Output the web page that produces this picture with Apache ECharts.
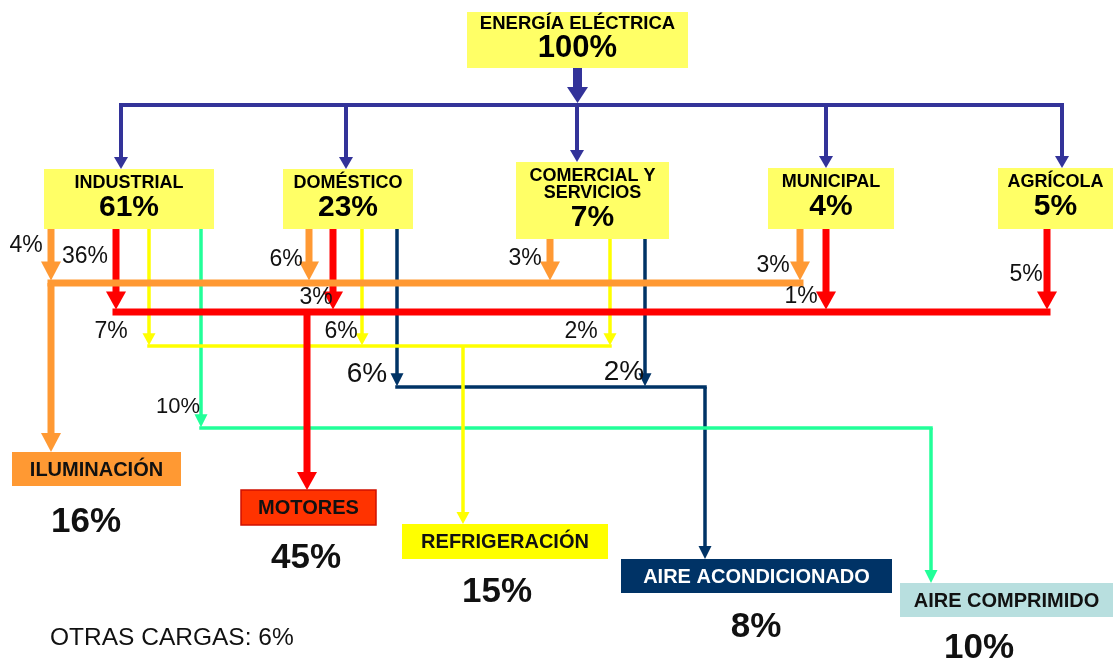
<!DOCTYPE html>
<html>
<head>
<meta charset="utf-8">
<title>Energía eléctrica por sector y uso final</title>
<script src="https://cdn.jsdelivr.net/npm/echarts@6/dist/echarts.min.js"></script>
<style>
  html, body { margin: 0; padding: 0; background: #fff; }
  #chart { width: 1114px; height: 659px; }
</style>
</head>
<body>
<div id="chart"></div>
<script>
// ---- datos ----
const totalLabel = "ENERGÍA ELÉCTRICA";
const totalShare = 100;

const sectorNames = ["INDUSTRIAL", "DOMÉSTICO", "COMERCIAL Y\nSERVICIOS", "MUNICIPAL", "AGRÍCOLA"];
const sectorShares = [61, 23, 7, 4, 5];

const useNames = ["ILUMINACIÓN", "MOTORES", "REFRIGERACIÓN", "AIRE ACONDICIONADO", "AIRE COMPRIMIDO"];
const useShares = [16, 45, 15, 8, 10];

// % que va de cada sector (columnas) a cada uso final; null = sin flujo
const flowIluminacion = [4, 6, 3, 3, null];
const flowMotores = [36, 3, null, 1, 5];
const flowRefrigeracion = [7, 6, 2, null, null];
const flowAireAcond = [null, 6, 2, null, null];
const flowAireComp = [10, null, null, null, null];
const flowShares = [flowIluminacion, flowMotores, flowRefrigeracion, flowAireAcond, flowAireComp];

const otherLabel = "OTRAS CARGAS";
const otherShare = 6;

// ---- layout (unidades del eje = px) ----
const W = 1114, H = 659;
const FONT = '"Liberation Sans", Arial, Helvetica, sans-serif';

const topBox = [467, 12, 688, 68];
const busY = 105;
const sectorBoxes = [
  [44, 169, 214, 229],
  [283, 169, 413, 229],
  [516, 162, 669, 239],
  [768, 168, 894, 229],
  [998, 168, 1113, 229]
];
const sectorDropX = [121, 346, 577, 826, 1062];

// x de cada bajada sector -> uso (filas = uso)
const tapX = [
  [51, 309, 550, 800, null],
  [116, 333, null, 826, 1047],
  [149, 362, 610, null, null],
  [null, 397, 645, null, null],
  [201, null, null, null, null]
];
const useBusY = [283, 312, 346, 387, 428];
const useDropX = [51, 307, 463, 705, 931];
const useBoxes = [
  [12, 452, 181, 486],
  [241, 490, 376, 525],
  [402, 524, 608, 559],
  [621, 559, 892, 593],
  [900, 583, 1113, 617]
];
const useShareX = [86, 306, 497, 756, 979];
const useShareY = [522, 558, 592, 627, 648];

const labelPos = [
  [[26, 246], [286, 260], [525, 259], [773, 266], null],
  [[85, 257], [316, 298], null, [801, 297], [1026, 275]],
  [[111, 332], [341, 332], [581, 332], null, null],
  [null, [367, 374], [624, 372], null, null],
  [[178, 407], null, null, null, null]
];
const labelSize = [23, 23, 23, 28, 22];

const blue = "#333399";
const sectorFill = "#ffff66";
const useColors = ["#ff9933", "#ff0000", "#ffff00", "#003366", "#22ff99"];
const useBoxFill = ["#ff9933", "#ff3300", "#ffff00", "#003366", "#b8dfdf"];
const useBoxStroke = [null, "#d01000", null, null, null];
const useTextColor = ["#111", "#111", "#111", "#fff", "#111"];
const useLineW = [7, 7, 3.5, 3.5, 3.5];
const useHead = [[20, 19], [20, 18], [13, 12], [13, 13], [13, 13]];
const drawOrder = [3, 4, 2, 1, 0];

// ---- cajas ----
const boxItems = [];
boxItems.push({ rect: topBox, fill: sectorFill });
sectorBoxes.forEach(r => boxItems.push({ rect: r, fill: sectorFill }));
useBoxes.forEach((r, i) => boxItems.push({ rect: r, fill: useBoxFill[i], stroke: useBoxStroke[i] }));

// ---- conectores ----
const connItems = [];
function addConn(from, to, color, width, head) {
  connItems.push({ from, to, color, width, head });
}
// flecha principal y bus azul
addConn([577.5, topBox[3]], [577.5, busY - 2], blue, 9, [21, 16]);
addConn([sectorDropX[0] - 2, busY], [sectorDropX[4] + 2, busY], blue, 4, null);
sectorDropX.forEach((x, j) => addConn([x, busY], [x, sectorBoxes[j][1]], blue, 4, [14, 12]));

drawOrder.forEach(u => {
  const color = useColors[u], w = useLineW[u], head = useHead[u];
  const xs = [useDropX[u]];
  tapX[u].forEach((x, j) => {
    if (x == null) return;
    xs.push(x);
    addConn([x, sectorBoxes[j][3]], [x, useBusY[u] - w / 2 + 1], color, w, head);
  });
  addConn([Math.min(...xs) - w / 2, useBusY[u]], [Math.max(...xs) + w / 2, useBusY[u]], color, w, null);
  addConn([useDropX[u], useBusY[u]], [useDropX[u], useBoxes[u][1]], color, w, head);
});

// ---- textos ----
const textItems = [];
function addText(pos, text, size, bold, color, align) {
  textItems.push({ pos, text, size, bold, color: color || "#000", align: align || "center" });
}
const topCx = (topBox[0] + topBox[2]) / 2;
addText([topCx, 24], totalLabel, 18.5, true);
addText([topCx, 48], totalShare + "%", 31, true);

sectorNames.forEach((name, j) => {
  const b = sectorBoxes[j];
  const cx = (b[0] + b[2]) / 2;
  const lines = name.split("\n");
  lines.forEach((ln, k) => addText([cx, b[1] + 14.5 + k * 16.5], ln, 18, true));
  addText([cx, b[1] + 14.5 + (lines.length - 1) * 16.5 + 24.5], sectorShares[j] + "%", 30, true);
});

flowShares.forEach((row, u) => {
  row.forEach((v, j) => {
    if (v == null) return;
    addText(labelPos[u][j], v + "%", labelSize[u], false, "#111");
  });
});

useNames.forEach((name, u) => {
  const b = useBoxes[u];
  addText([(b[0] + b[2]) / 2, (b[1] + b[3]) / 2 + 1], name, 20, true, useTextColor[u]);
  addText([useShareX[u], useShareY[u]], useShares[u] + "%", 35, true, "#111");
});

addText([50, 638], otherLabel + ": " + otherShare + "%", 24.5, false, "#111", "left");

// ---- render ----
function renderBox(params, api) {
  const it = boxItems[params.dataIndex];
  const p0 = api.coord([api.value(0), api.value(1)]);
  const p1 = api.coord([api.value(2), api.value(3)]);
  return {
    type: "rect",
    shape: { x: Math.min(p0[0], p1[0]), y: Math.min(p0[1], p1[1]), width: Math.abs(p1[0] - p0[0]), height: Math.abs(p1[1] - p0[1]) },
    style: { fill: it.fill, stroke: it.stroke || null, lineWidth: it.stroke ? 1.5 : 0 }
  };
}

function renderConn(params, api) {
  const c = connItems[params.dataIndex];
  const a = api.coord([api.value(0), api.value(1)]);
  const b = api.coord([api.value(2), api.value(3)]);
  const children = [];
  let end = b;
  if (c.head) {
    const dx = b[0] - a[0], dy = b[1] - a[1];
    const len = Math.hypot(dx, dy) || 1;
    const ux = dx / len, uy = dy / len;
    const hw = c.head[0], hh = c.head[1];
    const bx = b[0] - ux * hh, by = b[1] - uy * hh;
    end = [bx + ux, by + uy];
    children.push({
      type: "polygon",
      shape: { points: [[bx - uy * hw / 2, by + ux * hw / 2], [bx + uy * hw / 2, by - ux * hw / 2], [b[0], b[1]]] },
      style: { fill: c.color }
    });
  }
  children.unshift({
    type: "line",
    shape: { x1: a[0], y1: a[1], x2: end[0], y2: end[1] },
    style: { stroke: c.color, lineWidth: c.width, lineCap: "butt" }
  });
  return { type: "group", children };
}

function renderText(params, api) {
  const t = textItems[params.dataIndex];
  const p = api.coord([api.value(0), api.value(1)]);
  return {
    type: "text",
    style: {
      text: t.text, x: p[0], y: p[1], fill: t.color,
      fontSize: t.size, fontWeight: t.bold ? "bold" : "normal", fontFamily: FONT,
      align: t.align, verticalAlign: "middle"
    }
  };
}

const chart = echarts.init(document.getElementById("chart"));
chart.setOption({
  animation: false,
  backgroundColor: "#fff",
  grid: { left: 0, right: 0, top: 0, bottom: 0 },
  xAxis: { type: "value", min: 0, max: W, show: false },
  yAxis: { type: "value", min: 0, max: H, inverse: true, show: false },
  series: [
    {
      type: "custom", name: "cajas", clip: false, z: 1,
      encode: { x: [0, 2], y: [1, 3] },
      data: boxItems.map(b => b.rect.slice()),
      renderItem: renderBox
    },
    {
      type: "custom", name: "flujos", clip: false, z: 2,
      encode: { x: [0, 2], y: [1, 3] },
      data: connItems.map(c => [c.from[0], c.from[1], c.to[0], c.to[1]]),
      renderItem: renderConn
    },
    {
      type: "custom", name: "textos", clip: false, z: 3,
      encode: { x: 0, y: 1 },
      data: textItems.map(t => t.pos.slice()),
      renderItem: renderText
    }
  ]
});
</script>
</body>
</html>
